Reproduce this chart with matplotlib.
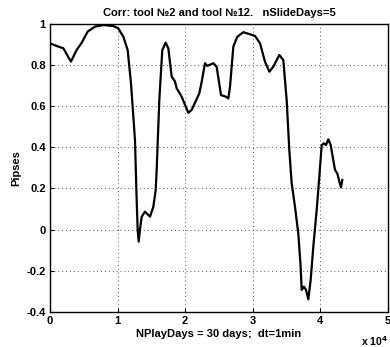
import matplotlib
matplotlib.use("Agg")
import matplotlib.pyplot as plt
import numpy as np

plt.rcParams["font.family"] = ["Liberation Sans", "DejaVu Sans"]
plt.rcParams["font.weight"] = "bold"
plt.rcParams["axes.unicode_minus"] = False

# curve (x in minutes, y = correlation)
x_min = [0, 1230, 1970, 3100, 3950, 4690, 5570, 6650, 7890, 9370, 10100,
         10850, 11490, 11980, 12330, 12570, 12820, 12970, 13120, 13310,
         13560, 14050, 14790, 15280, 15630, 15780, 16170, 16610, 17110,
         17500, 18000, 18490, 18740, 19480, 20460, 20960, 22090, 22440,
         22930, 23270, 24160, 24650, 25300, 26030, 26380, 26630, 27120,
         27710, 28600, 29590, 30330, 31070, 31800, 32450, 33030, 33920,
         34510, 35010, 35400, 35750, 36240, 36730, 37080, 37230, 37570,
         37870, 38210, 38560, 38950, 39450, 39840, 40190, 40530, 40830,
         41170, 41520, 41820, 42160, 42500, 42800, 43050, 43240]
corr = [0.906, 0.89, 0.882, 0.817, 0.874, 0.909, 0.963, 0.987, 0.995, 0.99,
        0.979, 0.938, 0.873, 0.711, 0.549, 0.435, 0.144, -0.002, -0.059,
        0.0, 0.062, 0.087, 0.062, 0.11, 0.19, 0.29, 0.63, 0.873, 0.909,
        0.882, 0.744, 0.72, 0.687, 0.646, 0.568, 0.582, 0.663, 0.719,
        0.809, 0.796, 0.809, 0.792, 0.654, 0.646, 0.638, 0.695, 0.89,
        0.938, 0.96, 0.95, 0.942, 0.906, 0.817, 0.768, 0.792, 0.849,
        0.825, 0.63, 0.387, 0.225, 0.111, -0.019, -0.181, -0.294, -0.278,
        -0.294, -0.34, -0.246, -0.084, 0.095, 0.257, 0.411, 0.419, 0.411,
        0.439, 0.411, 0.354, 0.29, 0.273, 0.233, 0.205, 0.241]

xticks = [0, 1, 2, 3, 4, 5]
yticks = [-0.4, -0.2, 0, 0.2, 0.4, 0.6, 0.8, 1]
ytick_labels = ["-0.4", "-0.2", "0", "0.2", "0.4", "0.6", "0.8", "1"]

fig = plt.figure(figsize=(3.9, 3.47), dpi=100)
ax = fig.add_axes([50 / 390, 1 - 311.7 / 347, 338 / 390, (311.7 - 24) / 347])

ax.plot(np.array(x_min) / 1e4, corr, color="black", lw=1.6)

ax.set_xlim(0, 5)
ax.set_ylim(-0.4, 1)
ax.set_xticks(xticks)
ax.set_xticklabels([str(t) for t in xticks])
ax.set_yticks(yticks)
ax.set_yticklabels(ytick_labels)
ax.tick_params(labelsize=8, direction="in", length=3, pad=3)
ax.grid(True, color="#555555", ls=(0, (1, 3)), lw=0.7)

for s in ax.spines.values():
    s.set_linewidth(1.0)

ax.set_title("Corr: tool №2 and tool №12.   nSlideDays=5", fontsize=8,
             fontweight="bold", pad=6)
ax.set_xlabel("NPlayDays = 30 days;  dt=1min", fontsize=8, fontweight="bold",
              labelpad=2)
ax.set_ylabel("Pipses", fontsize=8, fontweight="bold", labelpad=4)

fig.text(361 / 390, 1 - 341 / 347, r"x 10$^{\mathbf{4}}$", fontsize=7.5,
         fontweight="bold", ha="left", va="center")

fig.savefig("out.png", dpi=100)
